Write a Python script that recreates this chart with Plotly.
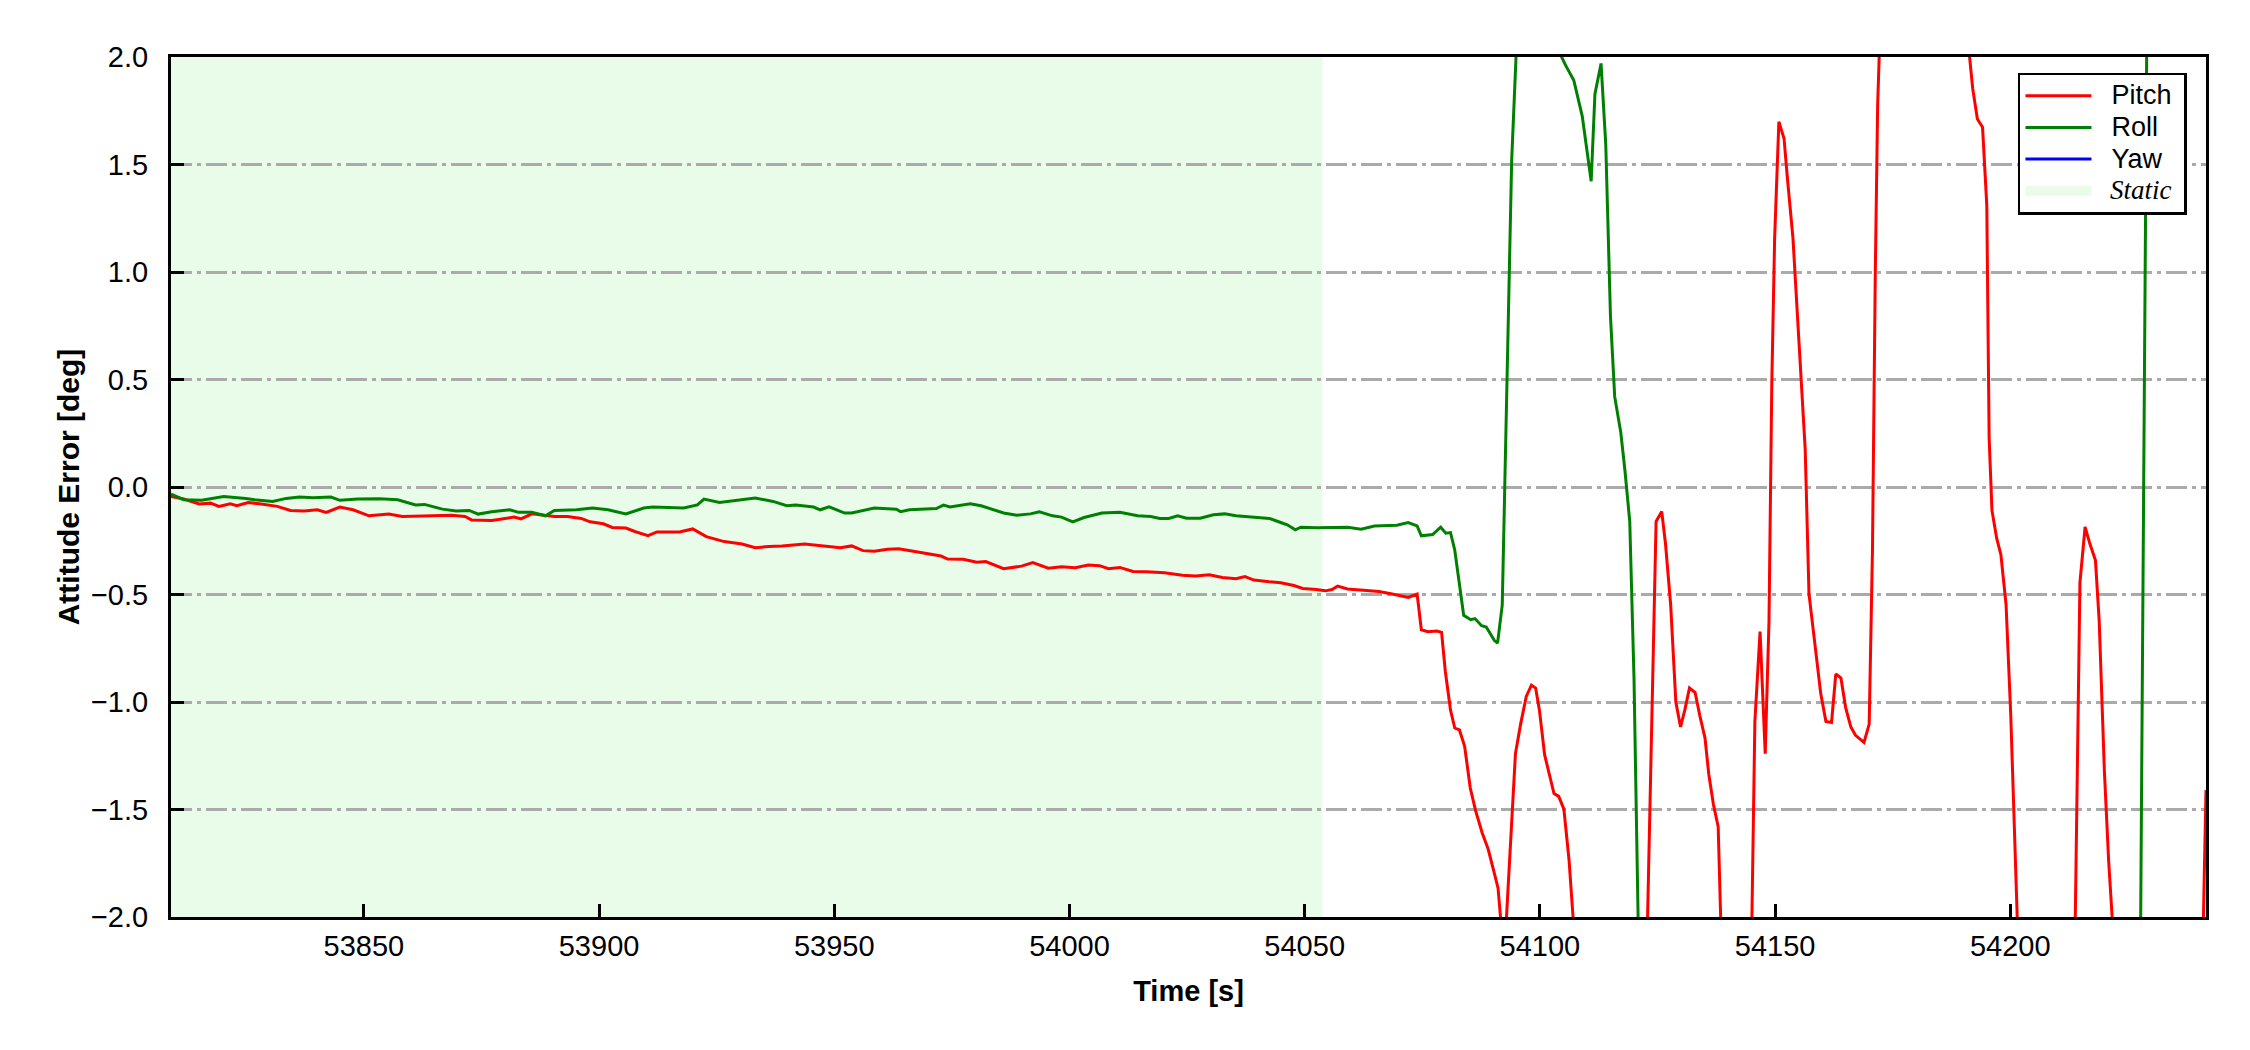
import plotly.graph_objects as go

# ---------------- data ----------------
pitch_time = [
    53809.0, 53811.7, 53815.0, 53817.4, 53819.2, 53821.6, 53823.0, 53825.4, 53827.8, 53831.6,
    53834.4, 53837.3, 53840.1, 53842.0, 53844.9, 53847.7, 53851.1, 53855.3, 53858.2, 53863.9,
    53868.6, 53871.5, 53872.9, 53877.2, 53881.9, 53883.4, 53885.7, 53890.5, 53893.3, 53896.2,
    53898.1, 53900.9, 53902.8, 53905.7, 53907.6, 53910.4, 53912.3, 53917.1, 53919.9, 53922.8,
    53926.6, 53930.4, 53933.2, 53936.1, 53938.9, 53943.7, 53947.5, 53951.3, 53953.7, 53956.1,
    53958.5, 53961.3, 53963.7, 53966.0, 53969.8, 53972.7, 53974.1, 53977.4, 53980.3, 53982.2,
    53986.0, 53989.8, 53992.2, 53995.5, 53998.3, 54001.2, 54004.0, 54006.4, 54008.3, 54010.7,
    54013.5, 54016.4, 54020.2, 54024.0, 54026.8, 54029.7, 54032.5, 54035.4, 54037.3, 54039.2,
    54042.5, 54044.9, 54047.7, 54049.6, 54052.5, 54054.4, 54055.8, 54057.0, 54059.1, 54062.9,
    54065.8, 54068.6, 54072.0, 54073.9, 54074.8, 54076.2, 54078.1, 54079.1, 54079.9, 54081.0,
    54081.9, 54082.9, 54084.0, 54085.2, 54086.3, 54087.7, 54089.0, 54090.2, 54091.1, 54092.4,
    54094.8, 54095.9, 54097.1, 54098.2, 54099.1, 54099.9, 54101.0, 54102.0, 54103.0, 54104.0,
    54105.1, 54106.2, 54108.0, 54112.0, 54118.0, 54122.5, 54123.9, 54124.7, 54125.9, 54126.7,
    54127.8, 54128.9, 54129.9, 54130.8, 54131.8, 54133.0, 54134.0, 54135.1, 54135.9, 54136.9,
    54137.9, 54138.8, 54142.0, 54144.8, 54145.7, 54146.8, 54147.9, 54148.7, 54149.3, 54149.9,
    54150.8, 54151.9, 54152.6, 54153.8, 54155.1, 54156.4, 54157.2, 54158.6, 54159.7, 54160.8,
    54162.0, 54162.9, 54164.0, 54165.0, 54166.1, 54167.1, 54168.9, 54170.0, 54170.7, 54171.3,
    54171.8, 54173.0, 54180.0, 54188.0, 54190.5, 54191.3, 54192.0, 54193.0, 54194.1, 54195.0,
    54195.5, 54196.1, 54197.1, 54198.0, 54199.1, 54200.1, 54202.2, 54208.0, 54213.5, 54214.8,
    54215.9, 54216.9, 54218.1, 54218.9, 54220.0, 54220.9, 54222.5, 54230.0, 54240.5, 54241.6,
]
pitch_values = [
    -0.044, -0.056, -0.079, -0.075, -0.090, -0.078, -0.087, -0.072, -0.078, -0.090,
    -0.109, -0.112, -0.106, -0.118, -0.093, -0.106, -0.134, -0.126, -0.137, -0.134,
    -0.131, -0.137, -0.153, -0.156, -0.140, -0.148, -0.125, -0.137, -0.137, -0.146,
    -0.162, -0.171, -0.188, -0.191, -0.207, -0.226, -0.209, -0.209, -0.195, -0.231,
    -0.254, -0.265, -0.282, -0.277, -0.274, -0.265, -0.274, -0.282, -0.274, -0.296,
    -0.299, -0.290, -0.287, -0.296, -0.313, -0.321, -0.335, -0.336, -0.350, -0.347,
    -0.380, -0.368, -0.352, -0.378, -0.371, -0.375, -0.363, -0.366, -0.380, -0.374,
    -0.393, -0.394, -0.399, -0.410, -0.414, -0.408, -0.421, -0.427, -0.417, -0.433,
    -0.441, -0.445, -0.458, -0.472, -0.477, -0.483, -0.477, -0.461, -0.474, -0.480,
    -0.486, -0.498, -0.514, -0.498, -0.664, -0.673, -0.670, -0.676, -0.858, -1.038,
    -1.121, -1.130, -1.206, -1.400, -1.503, -1.607, -1.684, -1.787, -1.865, -2.200,
    -1.240, -1.103, -0.974, -0.922, -0.935, -1.038, -1.245, -1.336, -1.426, -1.439,
    -1.498, -1.736, -2.300, -3.000, -3.000, -2.400, -1.065, -0.160, -0.114, -0.264,
    -0.548, -1.000, -1.116, -1.038, -0.935, -0.956, -1.064, -1.168, -1.336, -1.478,
    -1.580, -2.300, -3.000, -2.400, -1.090, -0.672, -1.240, -0.625, 0.485, 1.156,
    1.699, 1.621, 1.440, 1.156, 0.666, 0.175, -0.496, -0.767, -0.961, -1.090,
    -1.095, -0.870, -0.889, -1.026, -1.116, -1.155, -1.188, -1.103, -0.290, 1.000,
    1.776, 2.600, 3.000, 2.800, 2.300, 2.010, 1.854, 1.712, 1.673, 1.310,
    0.227, -0.109, -0.238, -0.315, -0.548, -1.064, -2.500, -3.000, -2.500, -0.445,
    -0.186, -0.263, -0.341, -0.625, -1.322, -1.736, -2.300, -3.000, -2.600, -1.410,
]

roll_time = [
    53809.0, 53811.7, 53815.5, 53820.2, 53824.9, 53826.8, 53830.6, 53833.5, 53836.3, 53839.2,
    53843.0, 53844.9, 53848.7, 53853.4, 53857.2, 53861.0, 53862.9, 53866.7, 53869.6, 53872.4,
    53874.3, 53877.2, 53881.0, 53882.9, 53885.7, 53888.6, 53890.5, 53895.2, 53898.6, 53901.9,
    53905.7, 53909.5, 53911.4, 53918.0, 53920.9, 53922.3, 53925.6, 53929.4, 53933.2, 53937.0,
    53939.9, 53941.8, 53945.6, 53947.0, 53948.9, 53952.2, 53953.7, 53958.5, 53963.2, 53964.1,
    53966.0, 53971.7, 53973.2, 53974.6, 53978.9, 53981.2, 53986.0, 53988.8, 53991.7, 53993.6,
    53996.4, 53998.3, 54000.7, 54003.1, 54006.9, 54010.7, 54014.5, 54017.3, 54019.2, 54021.1,
    54023.0, 54024.9, 54027.8, 54030.6, 54033.0, 54035.4, 54039.2, 54042.5, 54044.9, 54046.3,
    54048.0, 54049.2, 54052.5, 54054.4, 54059.1, 54062.0, 54064.8, 54069.6, 54072.0, 54073.9,
    54074.8, 54077.2, 54078.9, 54080.0, 54081.0, 54081.9, 54083.8, 54085.3, 54086.2, 54087.6,
    54088.6, 54090.3, 54091.0, 54092.0, 54093.0, 54094.0, 54095.5, 54099.0, 54102.5, 54104.4,
    54105.5, 54107.2, 54109.0, 54110.9, 54111.7, 54113.0, 54114.0, 54115.0, 54115.9, 54117.2,
    54118.1, 54119.1, 54120.0, 54121.5, 54130.0, 54160.0, 54200.0, 54227.4, 54229.3, 54236.0,
    54241.6,
]
roll_values = [
    -0.033, -0.059, -0.062, -0.044, -0.053, -0.059, -0.067, -0.053, -0.047, -0.050,
    -0.047, -0.062, -0.056, -0.055, -0.059, -0.084, -0.081, -0.103, -0.112, -0.109,
    -0.126, -0.115, -0.106, -0.118, -0.117, -0.134, -0.109, -0.106, -0.098, -0.106,
    -0.125, -0.098, -0.093, -0.098, -0.083, -0.056, -0.072, -0.062, -0.051, -0.067,
    -0.087, -0.084, -0.093, -0.106, -0.092, -0.121, -0.121, -0.098, -0.103, -0.115,
    -0.106, -0.100, -0.084, -0.093, -0.078, -0.087, -0.121, -0.131, -0.125, -0.115,
    -0.134, -0.140, -0.162, -0.142, -0.121, -0.118, -0.134, -0.137, -0.146, -0.146,
    -0.134, -0.145, -0.145, -0.129, -0.125, -0.134, -0.140, -0.146, -0.165, -0.176,
    -0.199, -0.187, -0.190, -0.190, -0.187, -0.196, -0.181, -0.178, -0.165, -0.181,
    -0.227, -0.221, -0.187, -0.215, -0.212, -0.293, -0.597, -0.617, -0.612, -0.645,
    -0.651, -0.713, -0.726, -0.548, 0.485, 1.518, 2.300, 2.500, 2.300, 2.010,
    1.960, 1.892, 1.725, 1.422, 1.828, 1.970, 1.595, 0.795, 0.420, 0.253,
    0.072, -0.160, -0.884, -2.800, -3.400, -3.600, -3.400, -3.000, 3.000, 3.200,
    3.300,
]

# Yaw never enters the visible window of the reference (legend entry only)
yaw_time = [None]
yaw_values = [None]

static_start = 53809.0
static_end = 54053.8
x_range = [53809.0, 54241.6]
y_range = [-2.0, 2.0]
x_ticks = [53850, 53900, 53950, 54000, 54050, 54100, 54150, 54200]
y_ticks = [-2.0, -1.5, -1.0, -0.5, 0.0, 0.5, 1.0, 1.5, 2.0]

# ---------------- figure ----------------
SANS = "Liberation Sans, Arial, Helvetica, sans-serif"
LW = 3
STATIC_FILL = "rgba(144,238,144,0.2)"
GAP = "\u00a0\u00a0"
TAIL = "\u00a0"


def legend_label(text, serif_italic=False):
    style = "font-size:27px"
    if serif_italic:
        style += ";font-family:'Liberation Serif','Times New Roman',serif"
        return f'<span style="{style}">{GAP}<i>{text}</i>{TAIL}</span>'
    return f'<span style="{style}">{GAP}{text}{TAIL}</span>'


fig = go.Figure()
fig.add_trace(go.Scatter(x=pitch_time, y=pitch_values, mode="lines", name=legend_label("Pitch"),
                         line=dict(color="#ff0000", width=LW), legendrank=1))
fig.add_trace(go.Scatter(x=roll_time, y=roll_values, mode="lines", name=legend_label("Roll"),
                         line=dict(color="#008000", width=LW), legendrank=2))
fig.add_trace(go.Scatter(x=yaw_time, y=yaw_values, mode="lines", name=legend_label("Yaw"),
                         line=dict(color="#0000ff", width=LW), legendrank=3))
# legend entry for the static shading (drawn as a wide light-green patch)
fig.add_trace(go.Scatter(x=[None], y=[None], mode="lines",
                         line=dict(color=STATIC_FILL, width=19), legendrank=4,
                         name=legend_label("Static", serif_italic=True)))

fig.add_vrect(x0=static_start, x1=static_end, fillcolor=STATIC_FILL,
              line_width=0, layer="below")

fig.update_layout(
    width=2242, height=1042,
    margin=dict(l=163, r=44, t=49, b=133, pad=0),
    paper_bgcolor="white", plot_bgcolor="white",
    font=dict(family=SANS, size=29, color="black"),
    showlegend=True,
    legend=dict(x=0.9076, y=0.9819, xanchor="left", yanchor="top",
                bgcolor="white", bordercolor="black", borderwidth=2.5,
                font=dict(family=SANS, size=22, color="black"),
                tracegroupgap=0, itemwidth=66),
)

fig.update_xaxes(
    range=x_range, tickvals=x_ticks, tickformat="d",
    showgrid=False, zeroline=False,
    showline=True, linecolor="black", linewidth=3, mirror=True,
    ticks="inside", ticklen=13, tickwidth=2.5, tickcolor="black",
    tickfont=dict(family=SANS, size=29), ticklabelstandoff=1,
    title=dict(text="<b>Time [s]</b>", font=dict(family=SANS, size=29), standoff=20),
    automargin=False,
)
fig.update_yaxes(
    range=y_range, tickvals=y_ticks, tickformat=".1f",
    showgrid=True, gridcolor="#aaaaaa", gridwidth=2.5, griddash="21px,5px,4px,5px",
    zeroline=False,
    showline=True, linecolor="black", linewidth=3, mirror=True,
    ticks="inside", ticklen=13, tickwidth=2.5, tickcolor="black",
    tickfont=dict(family=SANS, size=29), ticklabelstandoff=14,
    title=dict(text="<b>Attitude Error [deg]</b>", font=dict(family=SANS, size=30), standoff=3),
    automargin=False,
)

fig.write_html("out.html")
